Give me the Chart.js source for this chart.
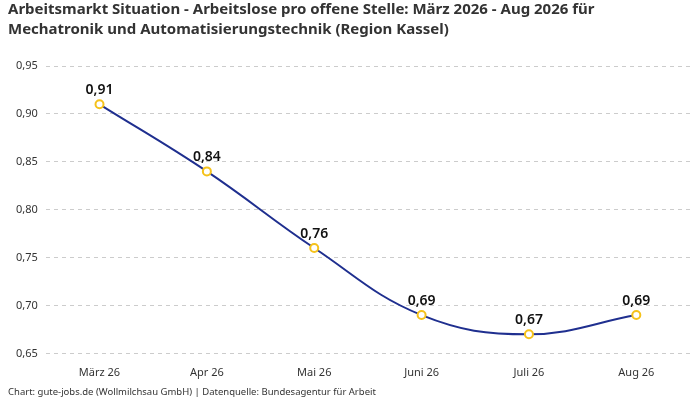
<!DOCTYPE html>
<html>
<head>
<meta charset="utf-8">
<script src="https://cdn.jsdelivr.net/npm/chart.js@4/dist/chart.umd.min.js"></script>
<style>
  html, body { margin: 0; padding: 0; background: #fff; }
  #wrap { width: 700px; height: 400px; }
</style>
</head>
<body>
<div id="wrap"><canvas id="myChart"></canvas></div>
<script>
const monate = ['März 26', 'Apr 26', 'Mai 26', 'Juni 26', 'Juli 26', 'Aug 26'];
const werte = [0.91, 0.84, 0.76, 0.69, 0.67, 0.69];

const fmt = v => v.toFixed(2).replace('.', ',');

// Werte über den Punkten
const labelPlugin = {
    id: 'werteLabels',
    afterDatasetsDraw(chart) {
        const ctx = chart.ctx;
        const meta = chart.getDatasetMeta(0);
        ctx.save();
        ctx.font = '600 14px "Noto Sans", sans-serif';
        ctx.fillStyle = '#111';
        ctx.textAlign = 'center';
        ctx.textBaseline = 'bottom';
        meta.data.forEach((pt, i) => {
            ctx.fillText(fmt(werte[i]), pt.x, pt.y - 7);
        });
        ctx.restore();
    }
};

new Chart(document.getElementById('myChart'), {
    type: 'line',
    data: {
        labels: monate,
        datasets: [{
            data: werte,
            borderColor: '#1f2f8f',
            borderWidth: 2,
            tension: 0.4,
            pointBackgroundColor: '#fff',
            pointBorderColor: '#f5c21b',
            pointBorderWidth: 2,
            pointRadius: 4,
            fill: false
        }]
    },
    options: {
        responsive: true,
        maintainAspectRatio: false,
        animation: false,
        layout: { padding: { left: 8, right: 10, top: 0, bottom: 0 } },
        plugins: {
            legend: { display: false },
            tooltip: { enabled: false },
            title: {
                display: true,
                align: 'start',
                text: ['Arbeitsmarkt Situation - Arbeitslose pro offene Stelle: März 2026 - Aug 2026 für',
                       'Mechatronik und Automatisierungstechnik (Region Kassel)'],
                color: '#333',
                font: { family: '"Noto Sans", sans-serif', size: 15, weight: 'bold', lineHeight: 1.3 },
                padding: { top: 0, bottom: 27 }
            },
            subtitle: {
                display: true,
                position: 'bottom',
                align: 'start',
                text: 'Chart: gute-jobs.de (Wollmilchsau GmbH) | Datenquelle: Bundesagentur für Arbeit',
                color: '#333',
                font: { family: '"Noto Sans", sans-serif', size: 9.5 },
                padding: { top: 2, bottom: 2 }
            }
        },
        scales: {
            x: {
                offset: true,
                grid: { display: false },
                border: { display: false },
                ticks: { color: '#333', font: { family: '"Noto Sans", sans-serif', size: 11 }, padding: 5 }
            },
            y: {
                min: 0.65,
                max: 0.95,
                grid: { color: '#ccc', drawTicks: false },
                border: { dash: [4, 4], display: false },
                ticks: {
                    stepSize: 0.05,
                    padding: 8,
                    color: '#333',
                    font: { family: '"Noto Sans", sans-serif', size: 11 },
                    callback: v => fmt(v)
                }
            }
        }
    },
    plugins: [labelPlugin]
});
</script>
</body>
</html>
